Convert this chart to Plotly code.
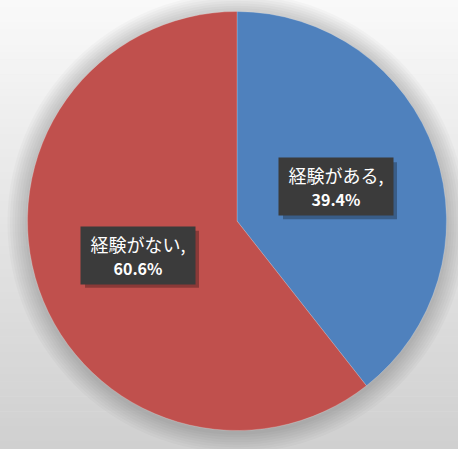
import math
import plotly.graph_objects as go

labels = ["経験がある", "経験がない"]
values = [39.4, 60.6]
colors = ["#4f81bd", "#c0504d"]

W, H = 458, 449
x_dom = [27.5 / W, 446.5 / W]
y_dom = [1 - 430.5 / H, 1 - 11.5 / H]

fig = go.Figure()

# background gradient (light at top, darker at bottom)
n = 60
for i in range(n):
    t = i / (n - 1)
    g = round(249 - (249 - 208) * t)
    fig.add_shape(type="rect", xref="paper", yref="paper",
                  x0=0, x1=1, y0=1 - (i + 1) / n, y1=1 - i / n + 0.001,
                  fillcolor=f"rgb({g},{g},{g})", line_width=0, layer="below")

# soft shadow around the pie
cx = (x_dom[0] + x_dom[1]) / 2
cy = (y_dom[0] + y_dom[1]) / 2
rx = (x_dom[1] - x_dom[0]) / 2
ry = (y_dom[1] - y_dom[0]) / 2
for k in range(8, 0, -1):
    s = 1 + k * 0.012
    fig.add_shape(type="circle", xref="paper", yref="paper",
                  x0=cx - rx * s, x1=cx + rx * s,
                  y0=cy - ry * s - 0.004, y1=cy + ry * s - 0.004,
                  fillcolor="rgba(0,0,0,0.022)", line_width=0, layer="below")

fig.add_trace(go.Pie(
    labels=labels, values=values, sort=False, direction="clockwise",
    rotation=0, marker=dict(colors=colors, line=dict(color="rgba(255,255,255,0.4)", width=0.5)),
    textinfo="none", hoverinfo="label+percent", showlegend=False,
    domain=dict(x=x_dom, y=y_dom),
))

# data labels at half radius, mid-angle of each slice
total = sum(values)
start = 0.0
for lab, v in zip(labels, values):
    mid = (start + v / 2) / total * 2 * math.pi
    start += v
    ax = cx + 0.5 * rx * math.sin(mid)
    ay = cy + 0.5 * ry * math.cos(mid)
    bw, bh = 114, 57
    # drop shadow behind the label box
    fig.add_shape(type="rect", xref="paper", yref="paper",
                  xsizemode="pixel", ysizemode="pixel", xanchor=ax, yanchor=ay,
                  x0=-bw / 2 + 4, x1=bw / 2 + 4, y0=-bh / 2 - 4, y1=bh / 2 - 4,
                  fillcolor="rgba(0,0,0,0.28)", line_width=0, layer="above")
    fig.add_annotation(x=ax, y=ay, xref="paper", yref="paper",
                       xanchor="center", yanchor="middle",
                       text=f"{lab},<br><b><span style='font-size:16px'>{v:.1f}%</span></b>",
                       showarrow=False, bgcolor="#3b3b3b",
                       width=bw, height=bh, borderpad=0,
                       font=dict(family="Noto Sans CJK JP", size=18, color="white"))

fig.update_layout(width=W, height=H, margin=dict(l=0, r=0, t=0, b=0),
                  paper_bgcolor="#e6e6e6", plot_bgcolor="#e6e6e6")

fig.write_html("out.html", config={"displayModeBar": False},
               post_script="document.body.style.margin='0';")
